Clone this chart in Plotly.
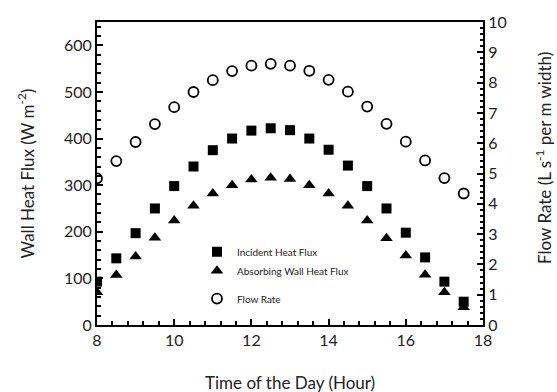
import plotly.graph_objects as go

hours = [8, 8.5, 9, 9.5, 10, 10.5, 11, 11.5, 12, 12.5, 13, 13.5, 14, 14.5, 15, 15.5, 16, 16.5, 17, 17.5]
incident = [93, 143, 197, 250, 298, 340, 375, 400, 417, 422, 418, 400, 376, 342, 298, 250, 198, 145, 93, 50]
absorbing = [70, 107, 147, 187, 224, 256, 282, 300, 312, 316, 313, 300, 282, 256, 224, 186, 149, 108, 70, 38]
flow_rate = [4.84, 5.41, 6.04, 6.63, 7.19, 7.69, 8.08, 8.38, 8.56, 8.62, 8.56, 8.39, 8.09, 7.70, 7.21, 6.64, 6.05, 5.43, 4.85, 4.34]

FONT = "Lato, 'Open Sans', sans-serif"

fig = go.Figure()
fig.add_trace(go.Scatter(x=hours, y=incident, mode="markers", name="Incident Heat Flux",
                         marker=dict(symbol="square", size=10, color="black"), legend="legend"))
fig.add_trace(go.Scatter(x=hours, y=absorbing, mode="markers", name="Absorbing Wall Heat Flux",
                         marker=dict(symbol="triangle-up", size=11, color="black"), legend="legend"))
fig.add_trace(go.Scatter(x=hours, y=flow_rate, mode="markers", name="Flow Rate", yaxis="y2",
                         marker=dict(symbol="circle-open", size=10, color="black", line=dict(width=1.8, color="black")),
                         legend="legend2"))

axis_common = dict(showgrid=False, zeroline=False, showline=True, linecolor="black", linewidth=2,
                   ticks="inside", tickcolor="black", tickwidth=2, ticklen=6,
                   tickfont=dict(family=FONT, size=16, color="#222"))

fig.update_layout(
    width=557, height=392,
    margin=dict(l=97, r=74, t=19, b=67),
    paper_bgcolor="white", plot_bgcolor="white",
    showlegend=True,
    xaxis=dict(range=[8, 18], dtick=2, tick0=8, mirror=True,
               minor=dict(dtick=0.4, ticks="inside", ticklen=4, tickcolor="black", tickwidth=1.5),
               **axis_common),
    yaxis=dict(range=[0, 650], dtick=100, tick0=0, mirror=True,
               minor=dict(dtick=20, ticks="inside", ticklen=4, tickcolor="black", tickwidth=1.5),
               **axis_common),
    yaxis2=dict(range=[0, 10], dtick=1, tick0=0, overlaying="y", side="right",
                minor=dict(dtick=0.2, ticks="inside", ticklen=3, tickcolor="black", tickwidth=1.5),
                **axis_common),
    legend=dict(x=0.259, y=0.29, xanchor="left", yanchor="top", bgcolor="rgba(0,0,0,0)",
                font=dict(family=FONT, size=10, color="#222"), tracegroupgap=0, itemwidth=30),
    legend2=dict(x=0.259, y=0.135, xanchor="left", yanchor="top", bgcolor="rgba(0,0,0,0)",
                 font=dict(family=FONT, size=10, color="#222"), itemwidth=30),
    annotations=[
        dict(text="Time of the Day (Hour)", xref="paper", yref="paper", x=0.5, y=-0.19,
             xanchor="center", yanchor="middle", showarrow=False,
             font=dict(family=FONT, size=17, color="#222")),
        dict(text="Wall Heat Flux (W m<sup>-2</sup>)", xref="paper", yref="paper", x=-0.184, y=0.5,
             xanchor="center", yanchor="middle", showarrow=False, textangle=-90,
             font=dict(family=FONT, size=17, color="#222")),
        dict(text="Flow Rate (L s<sup>-1</sup> per m width)", xref="paper", yref="paper", x=1.157, y=0.55,
             xanchor="center", yanchor="middle", showarrow=False, textangle=-90,
             font=dict(family=FONT, size=17, color="#222")),
    ],
)

fig.write_html("out.html", config={"displayModeBar": False},
               post_script="document.body.style.margin='0';")
